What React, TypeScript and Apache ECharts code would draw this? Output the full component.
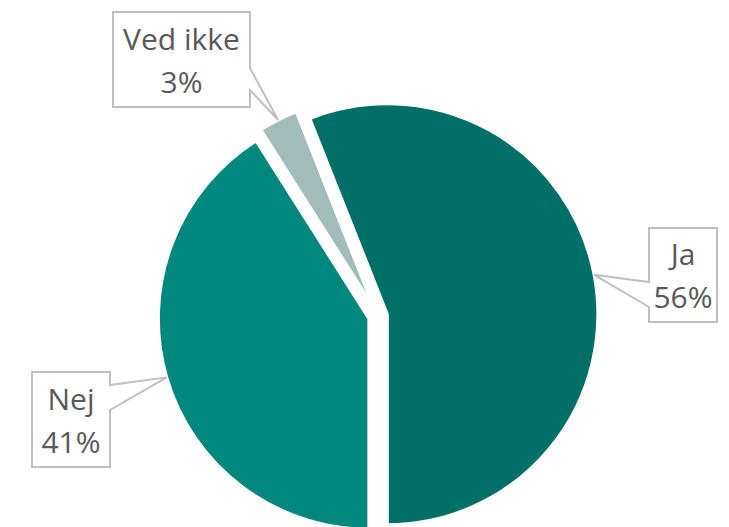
import { useEffect, useRef } from 'react';
import * as echarts from 'echarts';

// ---- data ----
const categories = ['Ja', 'Nej', 'Ved ikke'];
const values = [56, 41, 3];
const colors = ['#006F67', '#00877E', '#A0BDB9'];

// ---- layout (not data) ----
const CX = 378;
const CY = 316;
const R = 210.5;
const EXPLODE = 9.5;
const labelBoxes = [
  { left: 649, top: 228, width: 68, height: 94, side: 'left', joinTop: 282, joinBottom: 307 },
  { left: 32, top: 372, width: 78, height: 95, side: 'right', joinTop: 385, joinBottom: 410 },
  { left: 113, top: 12, width: 137, height: 95, side: 'right', joinTop: 68, joinBottom: 90 },
];

const total = values.reduce((a, b) => a + b, 0);
// first slice ends exactly at 6 o'clock (Excel "first slice angle")
const START_ANGLE = -90 + (360 * values[0]) / total;

export default function App() {
  const ref = useRef<HTMLDivElement>(null);

  useEffect(() => {
    if (!ref.current) return;
    const chart = echarts.init(ref.current, undefined, { renderer: 'svg' });

    const sliceData = categories.map((name, i) => ({
      name,
      value: values[i],
      selected: true,
      itemStyle: { color: colors[i] },
    }));
    const labelData = categories.map((name, i) => ({ name, value: values[i] }));

    chart.setOption({
      animation: false,
      backgroundColor: '#ffffff',
      series: [
        {
          type: 'pie',
          center: [CX, CY],
          radius: R,
          startAngle: START_ANGLE,
          clockwise: true,
          selectedMode: 'multiple',
          selectedOffset: EXPLODE,
          silent: true,
          avoidLabelOverlap: false,
          itemStyle: { borderColor: '#ffffff', borderWidth: 3 },
          select: { itemStyle: { borderColor: '#ffffff', borderWidth: 3 } },
          emphasis: { disabled: true },
          label: { show: false },
          labelLine: { show: false },
          data: sliceData,
        },
        {
          type: 'pie',
          center: [CX, CY],
          radius: R,
          startAngle: START_ANGLE,
          clockwise: true,
          silent: true,
          avoidLabelOverlap: false,
          z: 5,
          itemStyle: { color: 'rgba(0,0,0,0)', borderWidth: 0 },
          emphasis: { disabled: true },
          label: {
            show: true,
            position: 'outside',
            formatter: '{b}\n{c}%',
            fontFamily: 'Open Sans',
            fontSize: 30,
            lineHeight: 43,
            color: '#595959',
          },
          labelLine: {
            show: true,
            length: 10,
            length2: 10,
            lineStyle: { color: '#BFBFBF', width: 2, cap: 'square', join: 'miter' },
          },
          labelLayout: (params: any) => {
            const i = params.dataIndex;
            const b = labelBoxes[i];
            const p0 = params.labelLinePoints && params.labelLinePoints[0];
            let tip: number[];
            if (p0) {
              const dx = p0[0] - CX;
              const dy = p0[1] - CY;
              const len = Math.hypot(dx, dy) || 1;
              tip = [p0[0] + (dx / len) * EXPLODE, p0[1] + (dy / len) * EXPLODE];
            } else {
              tip = [b.side === 'left' ? b.left - 50 : b.left + b.width + 50, (b.joinTop + b.joinBottom) / 2];
            }
            const l = b.left;
            const r = b.left + b.width;
            const t = b.top;
            const bt = b.top + b.height;
            let pts: number[][];
            if (b.side === 'left') {
              pts = [
                [r, t], [l, t], [l, b.joinTop], tip, [l, b.joinBottom], [l, bt], [r, bt], [r, t],
              ];
            } else {
              pts = [
                [l, t], [r, t], [r, b.joinTop], tip, [r, b.joinBottom], [r, bt], [l, bt], [l, t],
              ];
            }
            return {
              x: l + b.width / 2,
              y: t + b.height / 2,
              align: 'center',
              verticalAlign: 'middle',
              labelLinePoints: pts,
            };
          },
          data: labelData,
        },
      ],
    });

    return () => chart.dispose();
  }, []);

  return (
    <div
      ref={ref}
      style={{ position: 'absolute', left: 0, top: 0, width: 729, height: 527 }}
    />
  );
}
